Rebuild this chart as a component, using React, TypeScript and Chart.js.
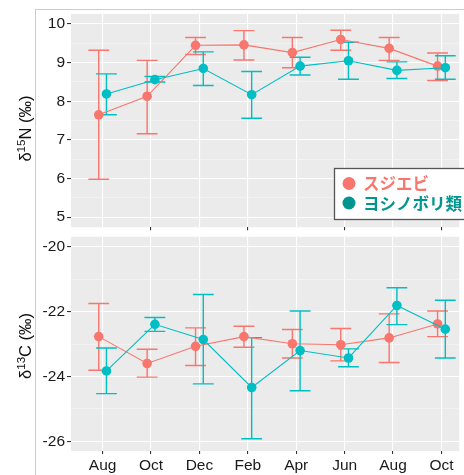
import React, { useEffect, useRef } from 'react';
import { Chart, registerables } from 'chart.js';

Chart.register(...registerables);

// ---------- data ----------
const months = ['Aug', 'Oct', 'Dec', 'Feb', 'Apr', 'Jun', 'Aug', 'Oct'];
const seriesNames = ['スジエビ', 'ヨシノボリ類'];

// δ15N
const shrimpN = [7.65, 8.13, 9.45, 9.46, 9.26, 9.6, 9.37, 8.91];
const shrimpNLo = [5.98, 7.16, 9.21, 9.07, 8.87, 9.32, 9.06, 8.54];
const shrimpNHi = [9.32, 9.06, 9.65, 9.83, 9.65, 9.84, 9.65, 9.25];
const gobyN = [8.19, 8.56, 8.85, 8.17, 8.91, 9.05, 8.8, 8.87];
const gobyNLo = [7.65, 8.5, 8.41, 7.56, 8.68, 8.57, 8.59, 8.57];
const gobyNHi = [8.71, 8.64, 9.28, 8.77, 9.14, 9.53, 9.02, 9.18];

// δ13C
const shrimpC = [-22.77, -23.6, -23.07, -22.77, -22.99, -23.02, -22.81, -22.38];
const shrimpCLo = [-23.81, -24.02, -23.66, -23.1, -23.43, -23.52, -23.57, -22.77];
const shrimpCHi = [-21.75, -23.16, -22.5, -22.45, -22.55, -22.52, -22.07, -21.98];
const gobyC = [-23.83, -22.39, -22.86, -24.34, -23.2, -23.43, -21.81, -22.54];
const gobyCLo = [-24.53, -22.61, -24.23, -25.92, -24.44, -23.7, -22.4, -23.43];
const gobyCHi = [-23.12, -22.18, -21.47, -22.8, -21.98, -23.15, -21.26, -21.65];

// tick values
const nTicks = [5, 5.5, 6, 6.5, 7, 7.5, 8, 8.5, 9, 9.5, 10];
const nLabeled = [5, 6, 7, 8, 9, 10];
const cTicks = [-26, -25, -24, -23, -22, -21, -20];
const cLabeled = [-26, -24, -22, -20];

// axis titles: [base, superscript, rest]
const nTitle = ['δ', '15', 'N (‰)'];
const cTitle = ['δ', '13', 'C (‰)'];

const SALMON = '#F8766D';
const TEAL = '#00BFC4';
const LEGEND_TEAL = '#00968F';
const DODGE = 0.08;
const CAP_HALF = 0.215;
const FONT = "'Liberation Sans', Arial, sans-serif";

const panelBg = {
  id: 'panelBg',
  beforeDraw(chart: any) {
    const { ctx, chartArea: a } = chart;
    ctx.save();
    ctx.fillStyle = '#EBEBEB';
    ctx.fillRect(a.left, a.top, a.right - a.left, a.bottom - a.top);
    ctx.restore();
  },
};

const errorBars = {
  id: 'errorBars',
  beforeDatasetsDraw(chart: any) {
    const { ctx } = chart;
    const xs = chart.scales.x;
    const ys = chart.scales.y;
    ctx.save();
    chart.data.datasets.forEach((ds: any) => {
      ctx.strokeStyle = ds.borderColor;
      ctx.lineWidth = 1.4;
      ds.data.forEach((p: any, j: number) => {
        const x = xs.getPixelForValue(p.x);
        const xl = xs.getPixelForValue(p.x - CAP_HALF);
        const xr = xs.getPixelForValue(p.x + CAP_HALF);
        const yl = ys.getPixelForValue(ds.errLo[j]);
        const yh = ys.getPixelForValue(ds.errHi[j]);
        ctx.beginPath();
        ctx.moveTo(x, yl);
        ctx.lineTo(x, yh);
        ctx.moveTo(xl, yl);
        ctx.lineTo(xr, yl);
        ctx.moveTo(xl, yh);
        ctx.lineTo(xr, yh);
        ctx.stroke();
      });
    });
    ctx.restore();
  },
};

const axisTitle = {
  id: 'axisTitle',
  afterDraw(chart: any, _args: any, opts: any) {
    if (!opts || !opts.parts) return;
    const { ctx, chartArea: a } = chart;
    const [base, sup, rest] = opts.parts;
    const big = `16.5px ${FONT}`;
    const small = `11.5px ${FONT}`;
    ctx.save();
    ctx.font = big;
    const w1 = ctx.measureText(base).width;
    const w3 = ctx.measureText(rest).width;
    ctx.font = small;
    const w2 = ctx.measureText(sup).width;
    const total = w1 + w2 + w3;
    const cy = (a.top + a.bottom) / 2 + opts.shift;
    ctx.translate(25, cy);
    ctx.rotate(-Math.PI / 2);
    ctx.fillStyle = '#111111';
    ctx.textAlign = 'left';
    ctx.textBaseline = 'alphabetic';
    let x = -total / 2;
    const base0 = 6;
    ctx.font = big;
    ctx.fillText(base, x, base0);
    x += w1;
    ctx.font = small;
    ctx.fillText(sup, x, base0 - 6);
    x += w2;
    ctx.font = big;
    ctx.fillText(rest, x, base0);
    ctx.restore();
  },
};

const legendBox = {
  id: 'legendBox',
  afterDraw(chart: any, _args: any, opts: any) {
    if (!opts || !opts.show) return;
    const { ctx } = chart;
    const colors = [SALMON, LEGEND_TEAL];
    ctx.save();
    ctx.fillStyle = '#ffffff';
    ctx.fillRect(334.5, 168.5, 150, 51);
    ctx.strokeStyle = '#555555';
    ctx.lineWidth = 1.3;
    ctx.strokeRect(334.5, 168.5, 150, 51);
    chart.data.datasets.forEach((ds: any, i: number) => {
      const y = 183.5 + i * 19.5;
      ctx.fillStyle = colors[i];
      ctx.beginPath();
      ctx.arc(349, y, 6.5, 0, Math.PI * 2);
      ctx.fill();
      ctx.font = "bold 16.5px 'Noto Sans CJK JP', sans-serif";
      ctx.textBaseline = 'middle';
      ctx.textAlign = 'left';
      ctx.fillText(ds.label, 363, y + 0.5);
    });
    ctx.restore();
  },
};

function buildConfig(p: {
  a: number[]; aLo: number[]; aHi: number[];
  b: number[]; bLo: number[]; bHi: number[];
  yMin: number; yMax: number; ticks: number[]; labeled: number[];
  title: string[]; titleShift: number; showX: boolean; xHeight: number; padTop: number; legend: boolean;
}) {
  const mk = (vals: number[], lo: number[], hi: number[], i: number) => ({
    label: seriesNames[i],
    data: vals.map((v, j) => ({ x: j + (i === 0 ? -DODGE : DODGE), y: v })),
    errLo: lo,
    errHi: hi,
    borderColor: i === 0 ? SALMON : TEAL,
    backgroundColor: i === 0 ? SALMON : TEAL,
    pointBackgroundColor: i === 0 ? SALMON : TEAL,
    borderWidth: 1.1,
    pointRadius: 4.8,
    pointHoverRadius: 4.8,
    pointBorderWidth: 0,
    tension: 0,
    order: i === 0 ? 1 : 0,
  });
  return {
    type: 'line',
    data: {
      datasets: [mk(p.a, p.aLo, p.aHi, 0), mk(p.b, p.bLo, p.bHi, 1)],
    },
    options: {
      animation: false,
      responsive: false,
      events: [],
      layout: { padding: { top: p.padTop, left: 0, right: 0, bottom: 0 } },
      plugins: {
        legend: { display: false },
        tooltip: { enabled: false },
        legendBox: { show: p.legend },
        axisTitle: { parts: p.title, shift: p.titleShift },
      },
      scales: {
        x: {
          type: 'linear',
          min: -0.653,
          max: 7.367,
          afterBuildTicks: (s: any) => {
            s.ticks = months.map((_, i) => ({ value: i }));
          },
          afterFit: (s: any) => {
            s.height = p.xHeight;
            s.paddingLeft = 0;
            s.paddingRight = 0;
          },
          ticks: {
            autoSkip: false,
            maxRotation: 0,
            padding: 2,
            color: '#1a1a1a',
            font: { family: FONT, size: 15.5 },
            callback: (_v: any, i: number) => (p.showX ? months[i] : ''),
          },
          grid: {
            color: '#ffffff',
            lineWidth: 1.1,
            drawTicks: true,
            tickLength: 3,
            tickColor: (c: any) =>
              p.showX || c.index % 2 === 1 ? '#333333' : 'rgba(0,0,0,0)',
          },
          border: { display: false },
        },
        y: {
          type: 'linear',
          min: p.yMin,
          max: p.yMax,
          afterBuildTicks: (s: any) => {
            s.ticks = p.ticks.map((v) => ({ value: v }));
          },
          afterFit: (s: any) => {
            s.width = 71;
            s.paddingTop = 0;
            s.paddingBottom = 0;
          },
          ticks: {
            autoSkip: false,
            padding: 2,
            color: '#1a1a1a',
            font: { family: FONT, size: 15.5 },
            callback: (v: number) => (p.labeled.includes(v) ? String(v) : ''),
          },
          grid: {
            color: (c: any) => (p.labeled.includes(c.tick.value) ? '#ffffff' : '#F7F7F7'),
            lineWidth: (c: any) => (p.labeled.includes(c.tick.value) ? 1.1 : 0.6),
            drawTicks: true,
            tickLength: 4,
            tickColor: (c: any) =>
              p.labeled.includes(c.tick.value) ? '#333333' : 'rgba(0,0,0,0)',
          },
          border: { display: false },
          title: { display: false },
        },
      },
    },
    plugins: [panelBg, errorBars, legendBox, axisTitle],
  };
}

export default function App() {
  const topRef = useRef<HTMLCanvasElement>(null);
  const botRef = useRef<HTMLCanvasElement>(null);

  useEffect(() => {
    const top = new Chart(
      topRef.current as HTMLCanvasElement,
      buildConfig({
        a: shrimpN, aLo: shrimpNLo, aHi: shrimpNHi,
        b: gobyN, bLo: gobyNLo, bHi: gobyNHi,
        yMin: 4.74, yMax: 10.26, ticks: nTicks, labeled: nLabeled,
        title: nTitle, titleShift: 8, showX: false, xHeight: 3, padTop: 14, legend: true,
      }) as any
    );
    const bot = new Chart(
      botRef.current as HTMLCanvasElement,
      buildConfig({
        a: shrimpC, aLo: shrimpCLo, aHi: shrimpCHi,
        b: gobyC, bLo: gobyCLo, bHi: gobyCHi,
        yMin: -26.3, yMax: -19.69, ticks: cTicks, labeled: cLabeled,
        title: cTitle, titleShift: 2, showX: true, xHeight: 24, padTop: 4, legend: false,
      }) as any
    );
    return () => {
      top.destroy();
      bot.destroy();
    };
  }, []);

  return (
    <div style={{ position: 'fixed', left: 0, top: 0, width: 464, height: 475, overflow: 'hidden', background: '#fff' }}>
      <div
        style={{
          position: 'absolute', left: 35, top: 9, width: 500, height: 500,
          borderLeft: '1px solid #cccccc', borderTop: '1px solid #cccccc',
        }}
      />
      <canvas ref={topRef} width={464} height={232} style={{ position: 'absolute', left: 0, top: 0, width: 464, height: 232 }} />
      <canvas ref={botRef} width={464} height={243} style={{ position: 'absolute', left: 0, top: 232, width: 464, height: 243 }} />
    </div>
  );
}
